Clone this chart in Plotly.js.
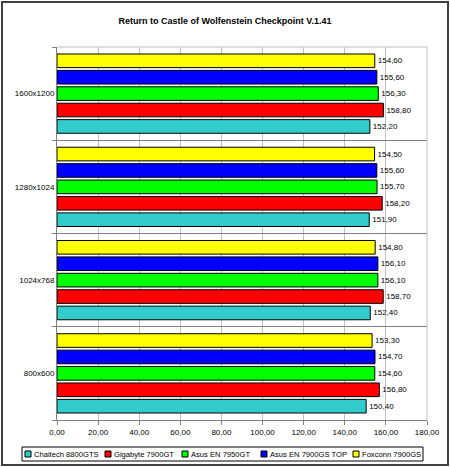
<!DOCTYPE html>
<html>
<head>
<meta charset="utf-8">
<script src="https://cdn.plot.ly/plotly-3.0.1.min.js"></script>
<style>
  html, body { margin: 0; padding: 0; background: #fff; }
  #wrap { position: relative; width: 450px; height: 467px; }
  #chart { width: 450px; height: 467px; }
  #frame { position: absolute; left: 1px; top: 1px; width: 444px; height: 461px; border: 2px solid #404040; pointer-events: none; }
</style>
</head>
<body>
<div id="wrap"><div id="chart"></div><div id="frame"></div></div>
<script>
const categories = ['800x600', '1024x768', '1280x1024', '1600x1200'];
const seriesNames = ['Chaitech 8800GTS', 'Gigabyte 7900GT', 'Asus EN 7950GT', 'Asus EN 7900GS TOP', 'Foxconn 7900GS'];
const chaitech = [150.4, 152.4, 151.9, 152.2];
const gigabyte = [156.8, 158.7, 158.2, 158.8];
const asus7950 = [154.6, 156.1, 155.7, 156.3];
const asus7900 = [154.7, 156.1, 155.6, 155.6];
const foxconn  = [153.3, 154.8, 154.5, 154.6];
const xTicks = [0, 20, 40, 60, 80, 100, 120, 140, 160, 180];

const seriesValues = [chaitech, gigabyte, asus7950, asus7900, foxconn];
const colors = ['#33CCCC', '#FF0000', '#00FF00', '#0000FF', '#FFFF00'];
const FONT = 'Liberation Sans, Arial, sans-serif';

const traces = seriesValues.map((vals, i) => ({
  type: 'bar',
  orientation: 'h',
  name: seriesNames[i],
  x: vals,
  y: categories,
  marker: { color: colors[i], line: { color: '#000', width: 1 } },
  texttemplate: '%{x:.2f}',
  textposition: 'outside',
  constraintext: 'none',
  cliponaxis: false,
  textfont: { family: FONT, size: 8, color: '#000' },
  hoverinfo: 'skip'
}));

// plot area in pixels: x 57..427, y 47..420
const L = 57, R = 427, T = 47, B = 420;
const px = v => (v - L) / (R - L);
const py = v => (B - v) / (B - T);

const shapes = [
  { type: 'line', xref: 'paper', yref: 'paper', x0: 0, x1: 1, y0: 1, y1: 1, line: { color: '#c0c0c0', width: 1 } },
  { type: 'line', xref: 'paper', yref: 'paper', x0: 1, x1: 1, y0: 0, y1: 1, line: { color: '#c0c0c0', width: 1 } },
  { type: 'rect', xref: 'paper', yref: 'paper', x0: px(22), x1: px(423), y0: py(447), y1: py(461), line: { color: '#000', width: 1 }, fillcolor: 'rgba(0,0,0,0)' }
];
const annotations = [];
const legX = [25, 105, 182, 261, 353];
seriesNames.forEach((n, i) => {
  shapes.push({ type: 'rect', xref: 'paper', yref: 'paper', x0: px(legX[i]), x1: px(legX[i] + 6), y0: py(451), y1: py(457), line: { color: '#000', width: 1 }, fillcolor: colors[i] });
  annotations.push({ xref: 'paper', yref: 'paper', x: px(legX[i] + 6.5), y: py(454), xanchor: 'left', yanchor: 'middle', showarrow: false, text: n, font: { family: FONT, size: 7.6, color: '#000' } });
});

const layout = {
  width: 450, height: 467,
  margin: { l: L, r: 450 - R, t: T, b: 467 - B, pad: 0 },
  paper_bgcolor: '#fff', plot_bgcolor: '#fff',
  separators: ',.',
  font: { family: FONT, size: 8, color: '#000' },
  title: { text: 'Return to Castle of Wolfenstein Checkpoint V.1.41', font: { family: FONT, size: 9, color: '#000', weight: 'bold' }, x: 0.5, xanchor: 'center', y: 1 - 21 / 467, yanchor: 'middle' },
  barmode: 'group',
  bargap: 0.12,
  bargroupgap: 0.17,
  showlegend: false,
  xaxis: {
    range: [0, 180], tickvals: xTicks, tickformat: '.2f',
    showgrid: true, gridcolor: '#c0c0c0', gridwidth: 1,
    showline: true, linecolor: '#808080', linewidth: 1,
    ticks: 'outside', ticklen: 4, tickcolor: '#808080',
    zeroline: false, fixedrange: true,
    tickfont: { family: FONT, size: 8, color: '#000' }
  },
  yaxis: {
    type: 'category', categoryorder: 'array', categoryarray: categories,
    range: [-0.5, 3.5], tickson: 'boundaries',
    showgrid: true, gridcolor: '#808080', gridwidth: 1,
    showline: true, linecolor: '#808080', linewidth: 1,
    ticks: 'outside', ticklen: 4, tickcolor: '#808080',
    zeroline: false, fixedrange: true,
    tickfont: { family: FONT, size: 8, color: '#000' }
  },
  shapes: shapes,
  annotations: annotations
};

Plotly.newPlot('chart', traces, layout, { displayModeBar: false, staticPlot: true });
</script>
</body>
</html>
